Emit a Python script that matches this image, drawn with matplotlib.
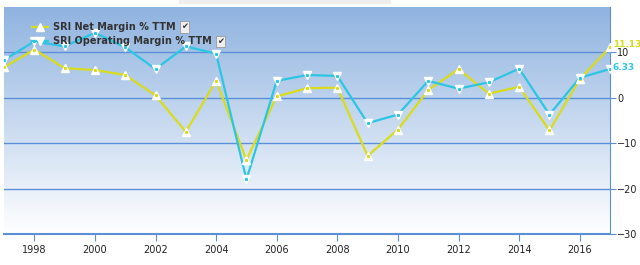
import matplotlib
matplotlib.use('Agg')
import matplotlib.pyplot as plt
import numpy as np
from matplotlib.lines import Line2D

years = list(range(1997, 2018))
net_margin = [6.7, 10.6, 6.5, 6.1, 5.0, 0.5, -7.5, 3.7, -13.7, 0.3, 2.1,
              2.2, -12.8, -7.0, 1.7, 6.3, 0.9, 2.4, -7.2, 4.1, 11.13]
op_margin = [8.3, 12.4, 11.3, 14.3, 11.1, 6.3, 11.3, 9.7, -18.0, 3.7, 5.0,
             4.8, -5.6, -3.7, 3.7, 2.0, 3.4, 6.4, -3.7, 4.4, 6.33]
x_ticks = [1998, 2000, 2002, 2004, 2006, 2008, 2010, 2012, 2014, 2016]
y_ticks = [-30, -20, -10, 0, 10]

yellow = '#d8dc1a'
cyan = '#2cc6e4'
grid_blue = '#5b90d8'

fig = plt.figure(figsize=(6.4, 2.65), dpi=100)
ax = fig.add_axes([0.00625, 0.117, 0.947, 0.857])
ax.set_xlim(1997, 2017)
ax.set_ylim(-30, 20)

# gradient background
grad = np.linspace(0, 1, 256).reshape(-1, 1)
top = np.array([143, 179, 224]) / 255
bot = np.array([255, 255, 255]) / 255
img = top[None, None, :] * (1 - grad[:, :, None]) + bot[None, None, :] * grad[:, :, None]
ax.imshow(img, extent=[1997, 2017, -30, 20], aspect='auto', zorder=0)

for y in [-20, -10, 0, 10]:
    ax.axhline(y, color=grid_blue, lw=1.0, zorder=1)

# lines
ax.plot(years, net_margin, color=yellow, lw=1.6, zorder=3)
ax.plot(years, op_margin, color=cyan, lw=1.6, zorder=3)
ax.plot(years, net_margin, ls='none', marker='^', ms=5.5, mfc='white', mec='white', zorder=4)
ax.plot(years, op_margin, ls='none', marker='v', ms=5.5, mfc='white', mec='white', zorder=4)
ax.plot(years, net_margin, ls='none', marker='s', ms=1.2, color=yellow, zorder=5)
ax.plot(years, op_margin, ls='none', marker='s', ms=1.2, color=cyan, zorder=5)

ax.annotate('%.2f' % net_margin[-1], xy=(years[-1], net_margin[-1]), xytext=(2, 2),
            textcoords='offset points', color=yellow, fontsize=6.5, fontweight='bold',
            va='center', ha='left', annotation_clip=False, zorder=6)
ax.annotate('%.2f' % op_margin[-1], xy=(years[-1], op_margin[-1]), xytext=(2, 1),
            textcoords='offset points', color=cyan, fontsize=6.5, fontweight='bold',
            va='center', ha='left', annotation_clip=False, zorder=6)

# axes styling
for s in ['top', 'left']:
    ax.spines[s].set_visible(False)
ax.spines['right'].set_color(grid_blue)
ax.spines['bottom'].set_color(grid_blue)
ax.spines['bottom'].set_linewidth(1.5)
ax.yaxis.tick_right()
ax.set_yticks(y_ticks)
ax.set_xticks(x_ticks)
ax.set_xticklabels([str(t) for t in x_ticks])
ax.tick_params(axis='y', colors=grid_blue, labelcolor='#222222', labelsize=7, length=4, pad=1)
ax.tick_params(axis='x', colors=grid_blue, labelcolor='#222222', labelsize=7, length=5, pad=3)

handles = [
    Line2D([], [], color=yellow, lw=1.6, marker='^', ms=5.5, mfc='white', mec='white'),
    Line2D([], [], color=cyan, lw=1.6, marker='v', ms=5.5, mfc='white', mec='white'),
]
leg = ax.legend(handles, ['SRI Net Margin % TTM', 'SRI Operating Margin % TTM'],
                loc='upper left', bbox_to_anchor=(0.038, 0.955), frameon=False,
                prop={'size': 7, 'weight': 'bold'}, handlelength=1.7,
                handletextpad=0.45, labelspacing=0.45, borderpad=0)
leg.set_zorder(7)
for t in leg.get_texts():
    t.set_color('#333333')
    ax.annotate('\u2714', xy=(1, 0.5), xycoords=t, xytext=(4, 0), textcoords='offset points',
                va='center', ha='left', fontsize=6, color='#333333', zorder=8,
                bbox=dict(boxstyle='square,pad=0.15', fc='#eeeeee', ec='#999999', lw=0.6))

# grey strip at the very top
fig.patches.append(plt.Rectangle((0.28, 0.988), 0.33, 0.012, transform=fig.transFigure,
                                 color='#eeeeee', zorder=0))

fig.savefig('out.png', dpi=100)
